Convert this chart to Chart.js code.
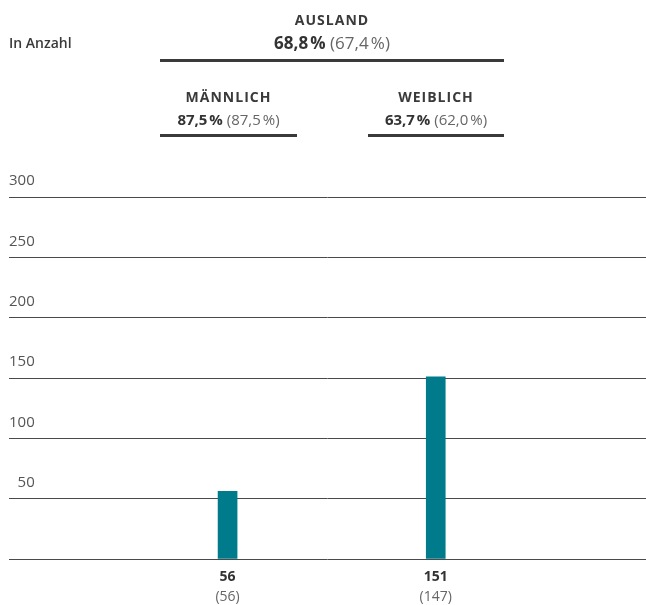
<!DOCTYPE html>
<html lang="de">
<head>
<meta charset="UTF-8">
<title>Ausland – In Anzahl</title>
<script src="https://cdn.jsdelivr.net/npm/chart.js"></script>
<style>
  body { margin: 0; background: #fff; font-family: "Open Sans", sans-serif; color: #3a3a3a; }
  #wrap { position: relative; width: 646px; height: 605px; }
  #chart { position: absolute; left: 0; top: 0; }
  .unit { position: absolute; left: 9px; top: 33px; font-size: 14px; font-weight: 600; color: #3a3a3a; }
  .grp { position: absolute; text-align: center; border-bottom: 3px solid #3a3a3a; }
  .grp .name { font-size: 14px; font-weight: 700; letter-spacing: 1px; line-height: 20px; }
  .grp .val { font-size: 15px; line-height: 25px; color: #666; }
  .grp.total .val { font-size: 17px; }
  .grp .val b { color: #333; }
</style>
</head>
<body>
<div id="wrap">
  <canvas id="chart" width="646" height="605"></canvas>
  <div class="unit">In Anzahl</div>
  <div id="header"></div>
</div>
<script>
  // values
  const totalLabel = 'AUSLAND';
  const totalShare = '68,8\u202f%';
  const totalSharePrev = '67,4\u202f%';

  const categories = ['MÄNNLICH', 'WEIBLICH'];
  const shares = ['87,5\u202f%', '63,7\u202f%'];
  const sharesPrev = ['87,5\u202f%', '62,0\u202f%'];
  const counts = [56, 151];
  const countsPrev = [56, 147];
  const yTicks = [0, 50, 100, 150, 200, 250, 300];

  function groupHtml(cls, name, share, prev, left, top, width, pad) {
    return `<div class="grp ${cls}" style="left:${left}px;top:${top}px;width:${width}px;padding-bottom:${pad}px">
      <div class="name">${name}</div>
      <div class="val"><b>${share}</b> (${prev})</div>
    </div>`;
  }

  let html = groupHtml('total', totalLabel, totalShare, totalSharePrev, 160, 10, 344, 4);
  const sub = [[160, 137], [368, 136]];
  categories.forEach((c, i) => {
    html += groupHtml('sub', c, shares[i], sharesPrev[i], sub[i][0], 87, sub[i][1], 2);
  });
  document.getElementById('header').innerHTML = html;

  const tickFont = { family: 'Open Sans', size: 14 };
  const setCatTicks = scale => { scale.ticks = categories.map((c, i) => ({ value: i + 1 })); };

  new Chart(document.getElementById('chart'), {
    type: 'bar',
    data: {
      datasets: [{
        data: counts.map((v, i) => ({ x: i + 1, y: v })),
        backgroundColor: '#007b8c',
        barThickness: 19
      }]
    },
    options: {
      responsive: false,
      animation: false,
      layout: { padding: { left: 9, right: 0, top: 197, bottom: 0 } },
      plugins: { legend: { display: false }, tooltip: { enabled: false } },
      scales: {
        x: {
          type: 'linear', min: -0.05, max: 3.01, offset: false,
          grid: { display: false, drawTicks: false }, border: { display: false },
          afterBuildTicks: setCatTicks,
          afterFit: s => { s.height = 30; },
          ticks: {
            padding: 10,
            font: { ...tickFont, weight: 'bold' }, color: '#333',
            callback: v => counts[v - 1]
          }
        },
        x2: {
          type: 'linear', position: 'bottom', min: -0.05, max: 3.01, offset: false,
          grid: { display: false, drawTicks: false }, border: { display: false },
          afterBuildTicks: setCatTicks,
          afterFit: s => { s.height = 16; },
          ticks: {
            padding: 0,
            font: tickFont, color: '#666',
            callback: v => '(' + countsPrev[v - 1] + ')'
          }
        },
        y: {
          min: 0, max: 300,
          afterBuildTicks: scale => { scale.ticks = yTicks.map(v => ({ value: v })); },
          border: { display: false },
          grid: { color: '#4a4a4a', lineWidth: 1, drawTicks: false },
          ticks: {
            mirror: true, crossAlign: 'far', padding: 0, labelOffset: -16,
            font: { family: 'Open Sans', size: 15 }, color: '#555',
            callback: v => v === 0 ? '' : v
          }
        }
      }
    }
  });
</script>
</body>
</html>
